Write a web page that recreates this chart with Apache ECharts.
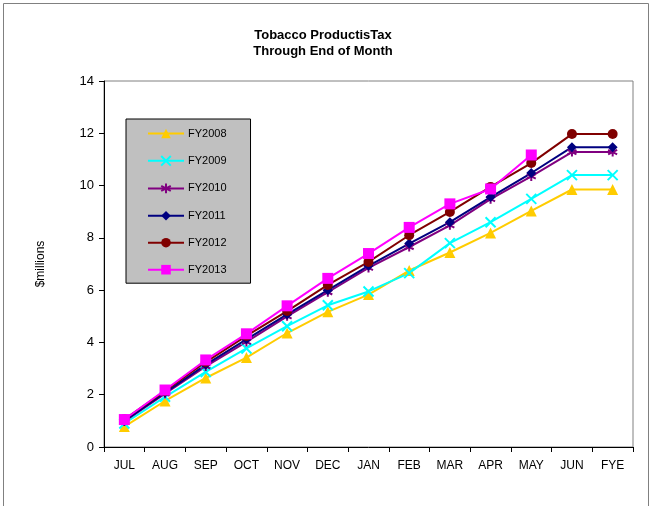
<!DOCTYPE html>
<html>
<head>
<meta charset="utf-8">
<script src="https://cdn.jsdelivr.net/npm/echarts@6/dist/echarts.min.js"></script>
<style>
  html, body { margin: 0; padding: 0; background: #fff; }
  #chart { width: 655px; height: 506px; }
</style>
</head>
<body>
<div id="chart"></div>
<script>
var months = ['JUL', 'AUG', 'SEP', 'OCT', 'NOV', 'DEC', 'JAN', 'FEB', 'MAR', 'APR', 'MAY', 'JUN', 'FYE'];
var fy2008 = [0.78, 1.76, 2.64, 3.42, 4.36, 5.17, 5.83, 6.75, 7.44, 8.19, 9.03, 9.85, 9.85];
var fy2009 = [0.9, 1.92, 2.87, 3.77, 4.62, 5.42, 5.95, 6.65, 7.8, 8.6, 9.49, 10.4, 10.4];
var fy2010 = [0.98, 2.04, 3.08, 4.02, 5.0, 5.92, 6.85, 7.65, 8.48, 9.48, 10.35, 11.28, 11.28];
var fy2011 = [1.0, 2.08, 3.15, 4.12, 5.07, 6.0, 6.93, 7.78, 8.6, 9.56, 10.48, 11.47, 11.47];
var fy2012 = [1.06, 2.14, 3.25, 4.25, 5.2, 6.2, 7.08, 8.1, 8.99, 9.95, 10.86, 11.97, 11.97];
var fy2013 = [1.05, 2.18, 3.33, 4.33, 5.4, 6.45, 7.4, 8.4, 9.3, 9.87, 11.17];

var font = '"Liberation Sans", Arial, sans-serif';

// symbol paths for the stroke-only markers
var crossPath = 'path://M0,0L10,10M10,0L0,10';
var starPath = 'path://M5,0L5,10M0,2.5L10,7.5M0,7.5L10,2.5';

function mkSeries(name, data, color, symbol, size, stroke) {
    var s = {
        name: name,
        type: 'line',
        data: data,
        symbol: symbol,
        symbolSize: size,
        showAllSymbol: true,
        lineStyle: { color: color, width: 2 },
        itemStyle: { color: color },
        emphasis: { disabled: true }
    };
    if (stroke) {
        s.itemStyle.borderColor = color;
        s.itemStyle.borderWidth = 2;
    }
    return s;
}

var chart = echarts.init(document.getElementById('chart'));
chart.setOption({
    animation: false,
    textStyle: { fontFamily: font },
    title: {
        text: 'Tobacco ProductisTax\nThrough End of Month',
        left: 318,
        top: 22,
        textAlign: 'center',
        textStyle: { fontSize: 13, fontWeight: 'bold', color: '#000', lineHeight: 16, fontFamily: font }
    },
    graphic: [{
        type: 'rect',
        shape: { x: 3.5, y: 3.5, width: 645, height: 530 },
        style: { fill: 'none', stroke: '#808080', lineWidth: 1 },
        silent: true
    }],
    legend: {
        orient: 'vertical',
        left: 126,
        top: 119,
        padding: [9, 24, 8, 21],
        itemWidth: 36,
        itemHeight: 12,
        itemGap: 16,
        backgroundColor: '#c0c0c0',
        borderColor: '#000',
        borderWidth: 1,
        borderRadius: 0,
        textStyle: { fontSize: 11, color: '#000', fontFamily: font, padding: [0, 0, 0, -1] },
        data: ['FY2008', 'FY2009', 'FY2010', 'FY2011', 'FY2012', 'FY2013']
    },
    grid: {
        left: 104,
        right: 22,
        top: 81,
        bottom: 59,
        show: true,
        borderColor: '#808080',
        borderWidth: 1,
        backgroundColor: 'transparent'
    },
    xAxis: {
        type: 'category',
        data: months,
        boundaryGap: true,
        axisLine: { lineStyle: { color: '#000', width: 1 } },
        axisTick: { show: true, length: 5, inside: false, lineStyle: { color: '#000' } },
        axisLabel: { color: '#000', fontSize: 12, margin: 13, fontFamily: font },
        splitLine: { show: false }
    },
    yAxis: {
        type: 'value',
        min: 0,
        max: 14,
        interval: 2,
        name: '$millions',
        nameLocation: 'middle',
        nameGap: 57,
        nameTextStyle: { color: '#000', fontSize: 12, fontFamily: font },
        axisLine: { show: true, lineStyle: { color: '#000', width: 1 } },
        axisTick: { show: true, length: 5, lineStyle: { color: '#000' } },
        axisLabel: { color: '#000', fontSize: 13, margin: 10, fontFamily: font },
        splitLine: { show: false }
    },
    series: [
        mkSeries('FY2008', fy2008, '#ffcc00', 'triangle', 11, false),
        mkSeries('FY2009', fy2009, '#00ffff', crossPath, 10, true),
        mkSeries('FY2010', fy2010, '#800080', starPath, 9, true),
        mkSeries('FY2011', fy2011, '#000080', 'diamond', 10, false),
        mkSeries('FY2012', fy2012, '#800000', 'circle', 10, false),
        mkSeries('FY2013', fy2013, '#ff00ff', 'rect', 11, false)
    ]
});
</script>
</body>
</html>
